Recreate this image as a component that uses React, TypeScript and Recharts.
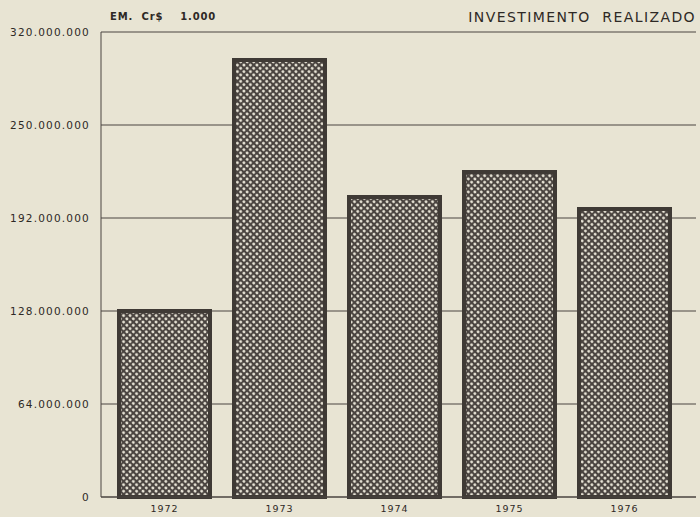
import React from 'react';
import {
  BarChart,
  Bar,
  XAxis,
  YAxis,
  CartesianGrid,
} from 'recharts';

// investimento realizado, em Cr$ 1.000
const years = ['1972', '1973', '1974', '1975', '1976'];
const investimento = [128000000, 300700000, 206400000, 223600000, 198200000];

const yTicks = [0, 64000000, 128000000, 192000000, 256000000, 320000000];
const yTickLabels = ['0', '64.000.000', '128.000.000', '192.000.000', '250.000.000', '320.000.000'];

const paper = '#e8e4d3';
const ink = '#2e2925';
const font = '"DejaVu Sans", "Liberation Sans", Arial, sans-serif';

const data = years.map((year, i) => ({ year, value: investimento[i] }));

export default function App() {
  return (
    <div
      style={{
        position: 'fixed',
        top: 0,
        left: 0,
        width: 700,
        height: 517,
        background: paper,
        fontFamily: font,
      }}
    >
      <div
        style={{
          position: 'absolute',
          left: 110,
          top: 11,
          fontSize: 10,
          fontWeight: 700,
          color: ink,
          letterSpacing: 0.8,
          whiteSpace: 'pre',
        }}
      >
        {'EM.  Cr$    1.000'}
      </div>
      <div
        style={{
          position: 'absolute',
          right: 4,
          top: 9,
          fontSize: 14,
          color: ink,
          letterSpacing: 1.4,
          whiteSpace: 'pre',
        }}
      >
        {'INVESTIMENTO  REALIZADO'}
      </div>
      <BarChart
        width={700}
        height={517}
        data={data}
        margin={{ top: 32, right: 4, left: 0, bottom: 0 }}
        barSize={91}
      >
        <defs>
          <pattern
            id="halftone"
            width="4.6"
            height="4.6"
            patternUnits="userSpaceOnUse"
            patternTransform="rotate(45)"
          >
            <rect width="4.6" height="4.6" fill="#4a4440" />
            <circle cx="2.3" cy="2.3" r="1.45" fill="#ece8da" />
          </pattern>
        </defs>
        <CartesianGrid vertical={false} stroke="#4a4440" strokeWidth={1} />
        <XAxis
          dataKey="year"
          height={20}
          padding={{ left: 6, right: 14 }}
          tickLine={false}
          axisLine={{ stroke: '#4a4440' }}
          tick={{ fontSize: 9.5, fill: ink, fontFamily: font, letterSpacing: 1 }}
        />
        <YAxis
          width={101}
          domain={[0, 320000000]}
          ticks={yTicks}
          interval={0}
          tickLine={false}
          tickMargin={5}
          axisLine={{ stroke: '#4a4440' }}
          tickFormatter={(v: number) => yTickLabels[yTicks.indexOf(v)] ?? ''}
          tick={{ fontSize: 10.5, fill: ink, fontFamily: font, letterSpacing: 1.2 }}
        />
        <Bar
          dataKey="value"
          fill="url(#halftone)"
          stroke="#3f3a35"
          strokeWidth={4}
          isAnimationActive={false}
        />
      </BarChart>
    </div>
  );
}
